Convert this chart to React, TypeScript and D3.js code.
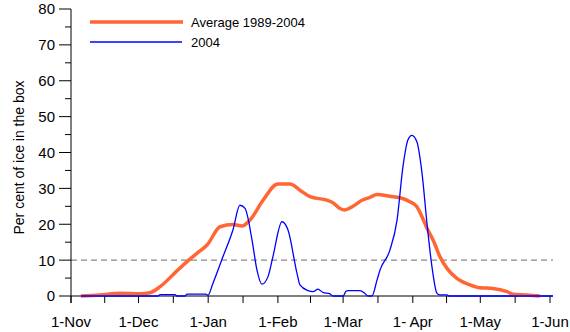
import React from "react";
import * as d3 from "d3";

// Days since 1-Nov-2003 and per cent of ice
const avgDays = [4.4, 12.9, 21.8, 30.7, 35.1, 39.6, 47.1, 51.6, 56.0, 60.5, 66.3, 72.0, 76.0, 79.6, 85.4, 92.0, 97.4, 101.8, 106.3, 113.8, 116.5, 119.6, 121.8, 125.4, 129.4, 132.9, 136.1, 141.8, 146.3, 150.7, 153.8, 156.1, 158.3, 161.0, 164.1, 167.2, 171.6, 177.4, 181.9, 187.6, 193.9, 196.5, 202.8, 208.5];
const avgValues = [0, 0.3, 0.8, 0.6, 0.9, 2.6, 7.0, 9.6, 11.9, 14.2, 19.3, 19.9, 19.5, 21.2, 26.7, 31.2, 31.2, 29.5, 27.7, 26.7, 26.0, 24.4, 24.0, 25.0, 26.7, 27.5, 28.3, 27.8, 27.4, 26.3, 24.9, 22.1, 18.9, 15.6, 10.9, 7.7, 4.9, 3.1, 2.3, 2.1, 1.2, 0.5, 0.3, 0];

const y2004Days = [4.4, 38.7, 39.6, 46.2, 47.1, 50.7, 51.6, 60.0, 60.9, 63.1, 67.6, 72.0, 75.1, 77.4, 80.5, 82.7, 84.9, 87.6, 89.8, 93.8, 96.5, 100.5, 101.8, 105.4, 107.6, 109.8, 112.0, 115.2, 116.5, 121.0, 122.3, 123.2, 128.5, 130.7, 132.1, 133.8, 136.1, 137.4, 141.8, 145.0, 147.6, 149.8, 151.6, 153.8, 156.1, 158.3, 160.5, 162.7, 164.0, 167.2, 168.0, 214.3];
const y2004Values = [0, 0, 0.4, 0.4, 0, 0, 0.5, 0.5, 0.2, 3.5, 11, 18.4, 25.3, 24.4, 15.6, 7.2, 3.3, 5.4, 11, 20.7, 18.4, 6.3, 3.1, 1.5, 1.2, 1.9, 1.0, 0.6, 0, 0, 1.3, 1.5, 1.5, 0.7, 0, 0, 4.5, 7.2, 12.8, 21.2, 36, 43.5, 44.8, 43, 34.2, 20.2, 8.2, 0.8, 0.3, 0.3, 0, 0];

const monthLabels = ["1-Nov", "1-Dec", "1-Jan", "1-Feb", "1-Mar", "1- Apr", "1-May", "1-Jun"];
const monthDays = [0, 30, 61, 92, 121, 152, 182, 213];
const yTicks = [0, 10, 20, 30, 40, 50, 60, 70, 80];
const thresholdValue = 10;
const seriesNames = ["Average 1989-2004", "2004"];

const W = 570;
const H = 332;
const left = 71;
const right = 550;
const top = 9;
const bottom = 296;
const font = "Arial, 'Liberation Sans', sans-serif";
const orange = "#FF6633";
const blue = "#0000FF";

export default function App() {
  const x = d3.scaleLinear().domain([0, 213]).range([left, right]);
  const y = d3.scaleLinear().domain([0, 80]).range([bottom, top]);

  const line = d3
    .line<[number, number]>()
    .x((d) => x(d[0]))
    .y((d) => y(d[1]))
    .curve(d3.curveMonotoneX);

  const avgPts: [number, number][] = avgDays.map((d, i) => [d, avgValues[i]]);
  const y04Pts: [number, number][] = y2004Days.map((d, i) => [d, y2004Values[i]]);

  const midDays: number[] = [];
  for (let i = 0; i < monthDays.length - 1; i++) midDays.push((monthDays[i] + monthDays[i + 1]) / 2);

  const minorY = d3.range(5, 80, 10);
  const axisEnd = x(214.3);

  return (
    <div style={{ position: "fixed", left: 0, top: 0 }}>
      <svg width={W} height={H} style={{ display: "block", background: "#fff" }} fontFamily={font}>
        {/* threshold */}
        <line x1={left} x2={axisEnd} y1={y(thresholdValue)} y2={y(thresholdValue)} stroke="#888" strokeWidth={1.2} strokeDasharray="6,4" />

        {/* y axis */}
        <line x1={left} x2={left} y1={top} y2={bottom + 7} stroke="#000" strokeWidth={1} />
        {yTicks.map((t) => (
          <g key={"y" + t}>
            <line x1={left - 12} x2={left} y1={y(t)} y2={y(t)} stroke="#000" strokeWidth={1} />
            <text x={55} y={y(t)} dy="0.36em" textAnchor="end" fontSize={15} fill="#000">{t}</text>
          </g>
        ))}
        {minorY.map((t) => (
          <line key={"ym" + t} x1={left - 6} x2={left} y1={y(t)} y2={y(t)} stroke="#000" strokeWidth={1} />
        ))}
        <text transform={`translate(19,${(top + bottom) / 2 + 5}) rotate(-90)`} textAnchor="middle" dy="0.35em" fontSize={14} fill="#000">
          Per cent of ice in the box
        </text>

        {/* x axis */}
        <line x1={left} x2={axisEnd} y1={bottom} y2={bottom} stroke="#000" strokeWidth={1} />
        {monthDays.map((d, i) => (
          <g key={"m" + i}>
            <line x1={x(d)} x2={x(d)} y1={bottom} y2={bottom + 7} stroke="#000" strokeWidth={1} />
            <text x={x(d)} y={327} textAnchor="middle" fontSize={15} fill="#000">{monthLabels[i]}</text>
          </g>
        ))}
        {midDays.map((d, i) => (
          <line key={"mm" + i} x1={x(d)} x2={x(d)} y1={bottom} y2={bottom + 7} stroke="#000" strokeWidth={1} />
        ))}

        {/* series */}
        <path d={line(avgPts) || ""} fill="none" stroke={orange} strokeWidth={3.5} strokeLinejoin="round" />
        <path d={line(y04Pts) || ""} fill="none" stroke={blue} strokeWidth={1.3} strokeLinejoin="round" />

        {/* legend */}
        <line x1={90} x2={183} y1={22} y2={22} stroke={orange} strokeWidth={3.5} />
        <text x={191} y={22} dy="0.36em" fontSize={13} fill="#000">{seriesNames[0]}</text>
        <line x1={90} x2={182} y1={42} y2={42} stroke={blue} strokeWidth={1.3} />
        <text x={191} y={42} dy="0.36em" fontSize={13} fill="#000">{seriesNames[1]}</text>
      </svg>
    </div>
  );
}
